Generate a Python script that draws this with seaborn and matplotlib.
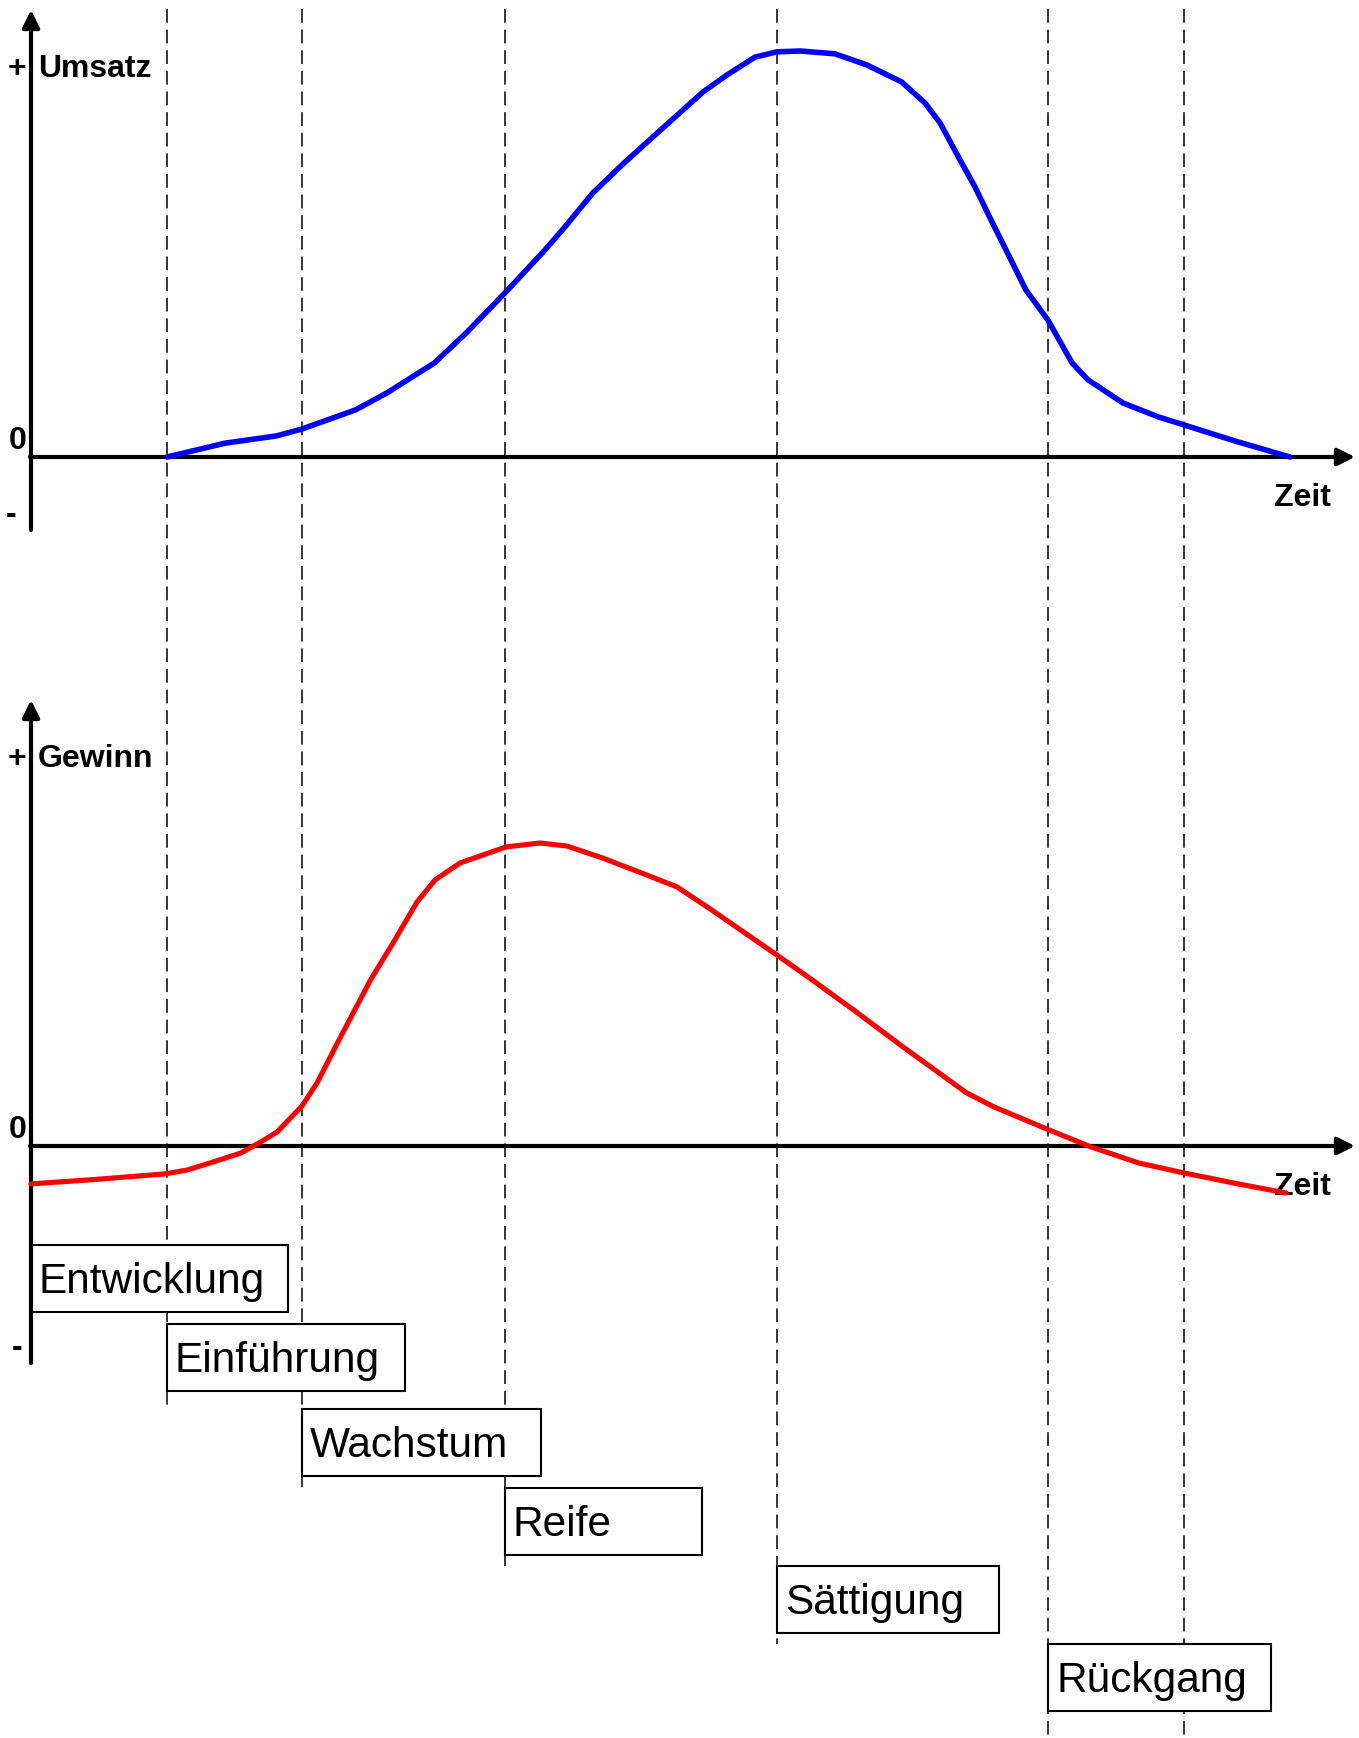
import numpy as np
import pandas as pd
import matplotlib
matplotlib.use("Agg")
import matplotlib.pyplot as plt
from matplotlib.patches import Rectangle
import seaborn as sns

# time axis: t=0 at the y axis, arbitrary units
umsatz_t = [13.6, 19.4, 24.55, 27.1, 32.45, 35.6, 40.36, 43.5, 47.47, 51.4, 53.4,
            56.17, 59.3, 63.3, 67.2, 69.6, 72.4, 74.6, 76.95, 80.4, 83.55, 87.05,
            89.4, 90.9, 92.9, 94.4, 96.0, 97.5, 99.5, 101.7, 104.1, 105.7, 109.2,
            112.7, 115.3, 120.45, 125.9]
umsatz_v = [0.0, 3.4, 5.2, 6.9, 11.6, 15.8, 23.2, 30.5, 40.6, 51.0, 56.7,
            65.0, 72.4, 81.3, 89.9, 94.1, 98.5, 99.8, 100.0, 99.3, 96.6, 92.4,
            87.2, 82.3, 73.2, 66.5, 58.4, 51.0, 41.1, 33.7, 23.2, 19.0, 13.3,
            9.9, 7.9, 3.9, 0.0]

gewinn_t = [0.0, 5.8, 13.4, 15.65, 17.9, 21.0, 22.8, 24.6, 27.1, 28.6, 30.8,
            33.95, 36.2, 38.6, 40.4, 42.9, 47.5, 50.9, 53.6, 57.2, 61.6, 64.6,
            67.8, 74.6, 77.7, 82.26, 87.2, 93.57, 96.3, 101.8, 106.0, 110.77,
            115.3, 120.7, 125.5]
gewinn_v = [-12.5, -11.2, -9.2, -7.9, -5.6, -2.3, 1.0, 4.6, 13.2, 20.8, 35.0,
            54.8, 67.0, 80.5, 87.8, 93.4, 98.7, 100.0, 99.0, 95.0, 89.4, 85.5,
            78.5, 63.0, 55.8, 44.9, 32.7, 17.5, 12.9, 5.3, -0.3, -5.6,
            -8.9, -12.5, -15.5]

phases = ["Entwicklung", "Einführung", "Wachstum", "Reife", "Sättigung", "Rückgang"]
phase_start = [0.0, 13.6, 27.1, 47.4, 74.6, 101.7]
phase_end = [13.6, 27.1, 47.4, 74.6, 101.7, 115.3]

# layout in pixels
W, H = 1359, 1738
X0, PX_T = 31, 10.0          # x pixel of t=0, pixels per time unit
Y0_U, PX_U = 457, 4.06       # zero line / pixels per unit, upper chart
Y0_G, PX_G = 1146, 3.03      # zero line / pixels per unit, lower chart


def tx(t):
    return X0 + t * PX_T


sns.set_style("white")
plt.rcParams['font.family'] = ['Liberation Sans', 'DejaVu Sans']
plt.rcParams['text.color'] = 'black'

fig = plt.figure(figsize=(W / 100, H / 100), dpi=100)

ax = fig.add_axes([0, 0, 1, 1], zorder=0)
ax.set_xlim(0, W)
ax.set_ylim(H, 0)
ax.axis("off")

# phase separators
box_w = [257, 238, 239, 197, 222, 223]
box_top = [1245, 1324, 1409, 1488, 1566, 1644]
box_h = 67
for i, t in enumerate(phase_end):
    y_end = box_top[i + 2] if i + 2 < len(box_top) else H
    ax.plot([tx(t), tx(t)], [9, y_end], color="black", lw=1.1,
            linestyle=(0, (9, 4.5)), zorder=1)

# phase boxes
for i, name in enumerate(phases):
    left = tx(phase_start[i])
    ax.add_patch(Rectangle((left, box_top[i]), box_w[i], box_h, facecolor="white",
                           edgecolor="black", lw=1.5, zorder=3))
    ax.text(left + 8, box_top[i] + 48, name, fontsize=30.5, ha="left",
            va="baseline", color="black", zorder=4)

# axes with arrows
arrow = dict(arrowstyle="-|>", lw=3, color="black", mutation_scale=26,
             shrinkA=0, shrinkB=0)
for y_zero, y_top, y_bot in [(Y0_U, 10, 530), (Y0_G, 700, 1363)]:
    ax.annotate("", xy=(X0, y_top), xytext=(X0, y_bot), arrowprops=arrow, zorder=4)
    ax.annotate("", xy=(1355, y_zero), xytext=(X0 - 1, y_zero), arrowprops=arrow, zorder=4)

bold = dict(fontsize=23, fontweight="bold", va="baseline", color="black", zorder=5)
for label, y_top, y_zero, y_minus, x_minus in [("Umsatz", 10, Y0_U, 523, 6),
                                                ("Gewinn", 700, Y0_G, 1356, 12)]:
    ax.text(17, y_top + 67, "+", ha="center", **bold)
    ax.text(38, y_top + 67, label, ha="left", **bold)
    ax.text(9, y_zero - 8, "0", ha="left", **bold)
    ax.text(x_minus, y_minus, "-", ha="left", **bold)
    ax.text(1274, y_zero + 49, "Zeit", ha="left", **bold)

# curves, on axes spanning the whole figure in data units
ax_u = fig.add_axes([0, 0, 1, 1], zorder=2)
ax_u.set_facecolor("none")
df_u = pd.DataFrame({"Zeit": umsatz_t, "Umsatz": umsatz_v})
sns.lineplot(data=df_u, x="Zeit", y="Umsatz", ax=ax_u, color="#0000ff",
             linewidth=4.0, estimator=None)
ax_u.set_xlim(-X0 / PX_T, (W - X0) / PX_T)
ax_u.set_ylim((Y0_U - H) / PX_U, Y0_U / PX_U)
ax_u.axis("off")

ax_g = fig.add_axes([0, 0, 1, 1], zorder=2)
ax_g.set_facecolor("none")
df_g = pd.DataFrame({"Zeit": gewinn_t, "Gewinn": gewinn_v})
sns.lineplot(data=df_g, x="Zeit", y="Gewinn", ax=ax_g, color="#ff0000",
             linewidth=3.7, estimator=None)
ax_g.set_xlim(-X0 / PX_T, (W - X0) / PX_T)
ax_g.set_ylim((Y0_G - H) / PX_G, Y0_G / PX_G)
ax_g.axis("off")

fig.savefig("out.png", dpi=100, facecolor="white")
